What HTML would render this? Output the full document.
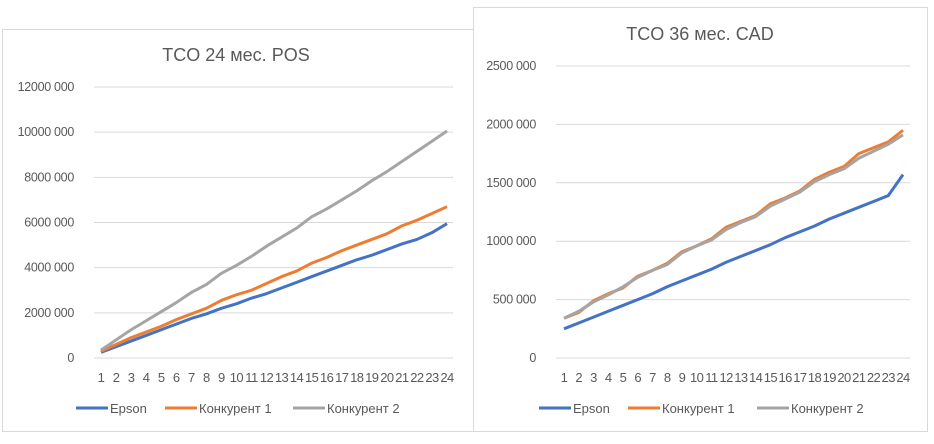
<!DOCTYPE html>
<html><head><meta charset="utf-8"><style>
body{margin:0;background:#fff;width:934px;height:439px;overflow:hidden}
svg{font-family:"Liberation Sans","DejaVu Sans",sans-serif}
</style></head><body>
<svg id="s" width="934" height="439">
<rect x="2.5" y="29.5" width="475" height="402" fill="#fff" stroke="#d9d9d9"/>
<rect x="473.5" y="7.5" width="454" height="424" fill="#fff" stroke="#d9d9d9"/>
<g id="g1"></g>
<g id="g2"></g>
</svg>
<script>
const categories=[1,2,3,4,5,6,7,8,9,10,11,12,13,14,15,16,17,18,19,20,21,22,23,24];
const seriesNames=["Epson","Конкурент 1","Конкурент 2"];
const posEpson=[0.25,0.5,0.75,1.0,1.25,1.5,1.75,1.95,2.2,2.4,2.65,2.85,3.1,3.35,3.6,3.85,4.1,4.35,4.55,4.8,5.05,5.25,5.55,5.95].map(v=>v*1e6);
const posK1=[0.3,0.6,0.9,1.15,1.4,1.7,1.95,2.2,2.55,2.8,3.0,3.3,3.6,3.85,4.2,4.45,4.75,5.0,5.25,5.5,5.85,6.1,6.4,6.7].map(v=>v*1e6);
const posK2=[0.35,0.8,1.25,1.65,2.05,2.45,2.9,3.25,3.75,4.1,4.5,4.95,5.35,5.75,6.25,6.6,7.0,7.4,7.85,8.25,8.7,9.15,9.6,10.05].map(v=>v*1e6);
const posTicks=[0,2000000,4000000,6000000,8000000,10000000,12000000];
const posTickLabels=["0","2000 000","4000 000","6000 000","8000 000","10000 000","12000 000"];
const cadEpson=[0.25,0.3,0.35,0.4,0.45,0.5,0.55,0.61,0.66,0.71,0.76,0.82,0.87,0.92,0.97,1.03,1.08,1.13,1.19,1.24,1.29,1.34,1.39,1.57].map(v=>v*1e6);
const cadK1=[0.34,0.39,0.49,0.55,0.6,0.7,0.75,0.81,0.91,0.96,1.02,1.12,1.17,1.22,1.32,1.37,1.43,1.53,1.59,1.64,1.75,1.8,1.85,1.95].map(v=>v*1e6);
const cadK2=[0.34,0.4,0.48,0.54,0.61,0.69,0.75,0.8,0.9,0.96,1.01,1.1,1.16,1.21,1.3,1.36,1.42,1.51,1.57,1.62,1.71,1.77,1.83,1.91].map(v=>v*1e6);
const cadTicks=[0,500000,1000000,1500000,2000000,2500000];
const cadTickLabels=["0","500 000","1000 000","1500 000","2000 000","2500 000"];
const colors=["#4472C4","#ED7D31","#A5A5A5"];
const NS="http://www.w3.org/2000/svg";
function mk(p,t,a,txt){const e=document.createElementNS(NS,t);for(const k in a)e.setAttribute(k,a[k]);if(txt!==undefined)e.textContent=txt;p.appendChild(e);return e;}
function draw(g,cfg){
  const xs=i=>cfg.x0+(cfg.x1-cfg.x0)*i/(categories.length-1);
  const ys=v=>cfg.y0-(cfg.y0-cfg.y1)*v/cfg.max;
  let t=mk(g,'text',{x:cfg.tx,y:cfg.ty,'font-size':18,fill:'#595959','text-anchor':'middle'},cfg.title);
  
  
  cfg.ticks.forEach((v,i)=>{
    let l=mk(g,'line',{x1:cfg.gx0,x2:cfg.gx1,y1:ys(v),y2:ys(v),stroke:'#d9d9d9'});
    
    
    let tl=mk(g,'text',{x:cfg.gx0-20,y:ys(v)+4,'font-size':12.5,fill:'#595959','text-anchor':'end','letter-spacing':'-0.3'},cfg.labels[i]);
    
    
  });
  categories.forEach((c,i)=>{
    let tl=mk(g,'text',{x:xs(i),y:cfg.y0+24,'font-size':13,fill:'#595959','text-anchor':'middle','letter-spacing':'-0.6'},c);
    
    
  });
  cfg.series.forEach((s,k)=>{
    let p=mk(g,'polyline',{points:s.map((v,i)=>xs(i)+','+ys(v)).join(' '),fill:'none',stroke:colors[k],'stroke-width':3,'stroke-linejoin':'round'});
    
    
  });
  cfg.legendX.forEach((lx,k)=>{
    let lg=mk(g,'g',{});
    
    
    mk(lg,'line',{x1:lx,x2:lx+32,y1:cfg.ly,y2:cfg.ly,stroke:colors[k],'stroke-width':3});
    mk(lg,'text',{x:lx+34,y:cfg.ly+5,'font-size':13,fill:'#595959'},seriesNames[k]);
  });
}
draw(document.getElementById('g1'),{title:'TCO 24 мес. POS',tx:236,ty:61,x0:101,x1:447,y0:358,y1:87,max:12000000,gx0:94,gx1:453,ticks:posTicks,labels:posTickLabels,series:[posEpson,posK1,posK2],legendX:[76,165,293],ly:408});
draw(document.getElementById('g2'),{title:'TCO 36 мес. CAD',tx:700,ty:40,x0:564,x1:903,y0:358,y1:66,max:2500000,gx0:556,gx1:910,ticks:cadTicks,labels:cadTickLabels,series:[cadEpson,cadK1,cadK2],legendX:[539,628,757],ly:408});
</script>
</body></html>
